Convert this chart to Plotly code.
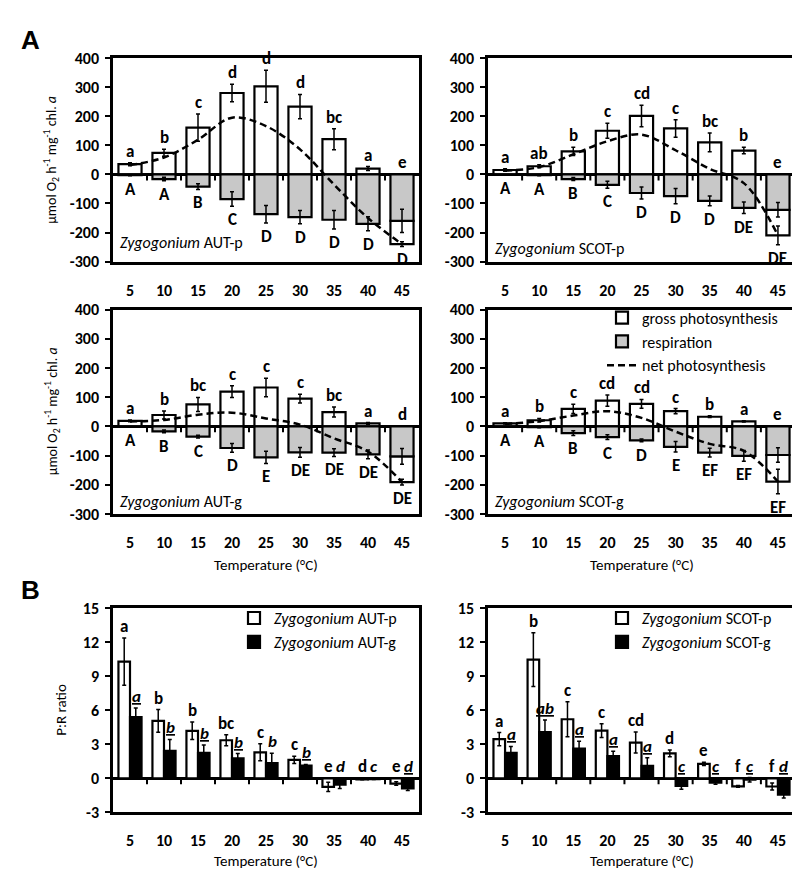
import plotly.graph_objects as go

temps = ['5', '10', '15', '20', '25', '30', '35', '40', '45']

# ---------- Panel A data (µmol O2 h-1 mg-1 chl a) ----------
autp_gross = [35, 74, 161, 280, 303, 233, 121, 20, -80]
autp_gross_err = [5, 12, 47, 30, 55, 42, 36, 7, 8]
autp_resp = [-3, -16, -42, -85, -137, -147, -156, -170, -160]
autp_resp_err = [2, 6, 10, 25, 30, 23, 32, 24, 40]
autp_net = [32, 58, 119, 195, 166, 86, -35, -150, -240]
autp_low = ['a', 'b', 'c', 'd', 'd', 'd', 'bc', 'a', 'e']
autp_up = ['A', 'A', 'B', 'C', 'D', 'D', 'D', 'D', 'D']

scotp_gross = [15, 28, 79, 150, 201, 158, 110, 82, -88]
scotp_gross_err = [4, 5, 14, 26, 37, 30, 32, 11, 32]
scotp_resp = [-2, -3, -16, -36, -64, -75, -91, -115, -122]
scotp_resp_err = [1, 2, 5, 12, 21, 26, 17, 20, 25]
scotp_net = [13, 25, 69, 114, 137, 83, 19, -30, -210]
scotp_low = ['a', 'ab', 'b', 'c', 'cd', 'c', 'bc', 'b', 'e']
scotp_up = ['A', 'A', 'B', 'C', 'D', 'D', 'D', 'DE', 'DE']

autg_gross = [19, 39, 75, 119, 133, 95, 49, 10, -88]
autg_gross_err = [3, 14, 24, 20, 32, 15, 17, 3, 10]
autg_resp = [-2, -17, -35, -74, -106, -89, -90, -96, -103]
autg_resp_err = [1, 5, 5, 15, 21, 17, 13, 15, 27]
autg_net = [17, 22, 40, 47, 27, 6, -41, -86, -191]
autg_low = ['a', 'b', 'bc', 'c', 'c', 'c', 'bc', 'a', 'd']
autg_up = ['A', 'B', 'C', 'D', 'E', 'DE', 'DE', 'DE', 'DE']

scotg_gross = [10, 21, 60, 88, 77, 52, 33, 17, -91]
scotg_gross_err = [2, 6, 16, 19, 15, 9, 3, 2, 42]
scotg_resp = [-2, -3, -23, -37, -48, -70, -90, -101, -98]
scotg_resp_err = [1, 2, 8, 8, 5, 18, 15, 18, 25]
scotg_net = [8, 18, 37, 52, 29, -18, -60, -84, -189]
scotg_low = ['a', 'b', 'c', 'cd', 'cd', 'c', 'b', 'a', 'e']
scotg_up = ['A', 'A', 'B', 'C', 'D', 'E', 'EF', 'EF', 'EF']

# ---------- Panel B data (P:R ratio) ----------
aut_p_pr = [10.27, 5.05, 4.18, 3.35, 2.29, 1.63, -0.75, -0.10, -0.46]
aut_p_pr_err = [2.08, 1.0, 0.77, 0.48, 0.75, 0.32, 0.4, 0.03, 0.15]
aut_g_pr = [5.4, 2.42, 2.24, 1.75, 1.34, 1.12, -0.55, -0.08, -0.88]
aut_g_pr_err = [0.78, 1.0, 0.7, 0.43, 0.86, 0.1, 0.35, 0.03, 0.2]
aut_p_lab = ['a', 'b', 'b', 'bc', 'c', 'c', 'e', 'd', 'e']
aut_g_lab = ['a', 'b', 'b', 'b', 'b', 'b', 'd', 'c', 'd']
aut_g_under = [1, 1, 1, 1, 0, 1, 0, 0, 1]

scot_p_pr = [3.45, 10.45, 5.2, 4.2, 3.15, 2.2, 1.27, -0.71, -0.72]
scot_p_pr_err = [0.58, 2.37, 1.55, 0.6, 0.92, 0.3, 0.15, 0.08, 0.3]
scot_g_pr = [2.25, 4.06, 2.62, 1.95, 1.1, -0.66, -0.37, -0.12, -1.43]
scot_g_pr_err = [0.56, 1.07, 0.65, 0.43, 0.72, 0.3, 0.15, 0.2, 0.3]
scot_p_lab = ['a', 'b', 'c', 'c', 'cd', 'd', 'e', 'f', 'f']
scot_g_lab = ['a', 'ab', 'a', 'a', 'a', 'c', 'c', 'c', 'd']
scot_g_under = [1, 1, 1, 1, 1, 1, 1, 1, 1]

A_yticks = [-300, -200, -100, 0, 100, 200, 300, 400]
B_yticks = [-3, 0, 3, 6, 9, 12, 15]

FONT = "Carlito, Lato, sans-serif"
GREY = "#c8c8c8"
W, H = 800, 878
LETTER_SIZE = 17
TEXT_SIZE = 16


def fx(p):
    return p / W


def fy(p):
    return 1 - p / H


fig = go.Figure()
annotations = []
shapes = []

A_panels = [
    dict(g=autp_gross, ge=autp_gross_err, r=autp_resp, re=autp_resp_err, n=autp_net,
         low=autp_low, up=autp_up, name='AUT-p', lab_off=20,
         xd=(105, 411), yd=(42, 250)),
    dict(g=scotp_gross, ge=scotp_gross_err, r=scotp_resp, re=scotp_resp_err, n=scotp_net,
         low=scotp_low, up=scotp_up, name='SCOT-p', lab_off=13,
         xd=(480, 787), yd=(42, 250)),
    dict(g=autg_gross, ge=autg_gross_err, r=autg_resp, re=autg_resp_err, n=autg_net,
         low=autg_low, up=autg_up, name='AUT-g', lab_off=13,
         xd=(105, 411), yd=(299, 508)),
    dict(g=scotg_gross, ge=scotg_gross_err, r=scotg_resp, re=scotg_resp_err, n=scotg_net,
         low=scotg_low, up=scotg_up, name='SCOT-g', lab_off=13,
         xd=(480, 787), yd=(299, 508)),
]

err_style = dict(type='data', color='black', thickness=1.5, width=2)
layout_axes = {}
TICKFONT = dict(family=FONT, size=16, color='black')


def axis_names(k):
    return ('x' if k == 1 else f'x{k}'), ('y' if k == 1 else f'y{k}')


def make_axes(k, xd, yd, yrange, ytickvals):
    xn, yn = axis_names(k)
    xkey = 'xaxis' if k == 1 else f'xaxis{k}'
    ykey = 'yaxis' if k == 1 else f'yaxis{k}'
    layout_axes[xkey] = dict(
        domain=[fx(xd[0]), fx(xd[1])], anchor=yn, type='category',
        categoryorder='array', categoryarray=temps, range=[-0.5, 8.5],
        tickvals=temps, ticktext=[f'<b>{t}</b>' for t in temps],
        showline=True, mirror=True, linecolor='black', linewidth=2.5,
        ticks='', showgrid=False, zeroline=False, ticklabelstandoff=12,
        tickfont=TICKFONT)
    layout_axes[ykey] = dict(
        domain=[fy(yd[1]), fy(yd[0])], anchor=xn, range=yrange,
        tickvals=ytickvals, ticktext=[f'<b>{v}</b>' for v in ytickvals],
        showline=True, mirror=True, linecolor='black',
        linewidth=2.5, ticks='outside', ticklen=5, tickwidth=2, tickcolor='black',
        showgrid=False, zeroline=True, zerolinecolor='black', zerolinewidth=2.5,
        ticklabelstandoff=3, tickfont=TICKFONT)
    for b in range(1, len(temps)):
        shapes.append(dict(type='line', xref=xn, yref=yn, x0=b - 0.5, x1=b - 0.5,
                           ysizemode='pixel', yanchor=0, y0=0, y1=-6,
                           line=dict(color='black', width=2)))


for i, p in enumerate(A_panels):
    k = i + 1
    xn, yn = axis_names(k)
    make_axes(k, p['xd'], p['yd'], [-300, 400], A_yticks)
    show = (k == 4)
    gbase = [0 if g >= 0 else r for g, r in zip(p['g'], p['r'])]
    fig.add_trace(go.Bar(
        x=temps, y=p['g'], base=gbase, xaxis=xn, yaxis=yn,
        marker=dict(color='white', line=dict(color='black', width=2.2)),
        error_y=dict(array=p['ge'], **err_style),
        name='gross photosynthesis', showlegend=show, legendrank=1, legend='legend'))
    fig.add_trace(go.Bar(
        x=temps, y=p['r'], base=[0] * len(temps), xaxis=xn, yaxis=yn,
        marker=dict(color=GREY, line=dict(color='black', width=2.2)),
        error_y=dict(array=p['re'], **err_style),
        name='respiration', showlegend=show, legendrank=2, legend='legend'))
    fig.add_trace(go.Scatter(
        x=temps, y=p['n'], mode='lines', xaxis=xn, yaxis=yn,
        line=dict(color='black', width=2.5, dash='7px,4px', shape='spline', smoothing=1.0),
        name='net photosynthesis', showlegend=show, legendrank=3, legend='legend'))
    # letters (x given as category index)
    for j in range(len(temps)):
        g, ge, r, re_ = p['g'][j], p['ge'][j], p['r'][j], p['re'][j]
        top = g + ge if g > 0 else 0
        annotations.append(dict(x=j, y=top, xref=xn, yref=yn, text=f"<b>{p['low'][j]}</b>",
                                showarrow=False, yanchor='bottom', yshift=-1,
                                font=dict(family=FONT, size=LETTER_SIZE, color='black')))
        bottom = r - re_
        if g < 0:
            bottom = min(bottom, r + g - ge)
        annotations.append(dict(x=j, y=bottom, xref=xn, yref=yn, text=f"<b>{p['up'][j]}</b>",
                                showarrow=False, yanchor='top', yshift=-1,
                                font=dict(family=FONT, size=LETTER_SIZE, color='black')))
    ydom = p['yd']
    annotations.append(dict(xref='paper', yref='paper', x=fx(p['xd'][0] + 5),
                            y=fy(ydom[1] - p['lab_off']), xanchor='left', yanchor='middle',
                            text=f"<i>Zygogonium</i> {p['name']}", showarrow=False,
                            font=dict(family=FONT, size=TEXT_SIZE, color='black')))

# ---------- Panel B ----------
B_panels = [
    dict(p=aut_p_pr, pe=aut_p_pr_err, g=aut_g_pr, ge=aut_g_pr_err, pl=aut_p_lab,
         gl=aut_g_lab, gu=aut_g_under, np='AUT-p', ng='AUT-g', leg='legend2',
         xd=(105, 411), yd=(604, 813)),
    dict(p=scot_p_pr, pe=scot_p_pr_err, g=scot_g_pr, ge=scot_g_pr_err, pl=scot_p_lab,
         gl=scot_g_lab, gu=scot_g_under, np='SCOT-p', ng='SCOT-g', leg='legend3',
         xd=(480, 787), yd=(604, 813)),
]

for i, p in enumerate(B_panels):
    k = 5 + i
    xn, yn = axis_names(k)
    make_axes(k, p['xd'], p['yd'], [-3, 15], B_yticks)
    fig.add_trace(go.Bar(
        x=temps, y=p['p'], xaxis=xn, yaxis=yn, width=0.34, offset=-0.34,
        marker=dict(color='white', line=dict(color='black', width=2.2)),
        error_y=dict(array=p['pe'], **err_style),
        name=f"<i>Zygogonium</i> {p['np']}", legend=p['leg']))
    fig.add_trace(go.Bar(
        x=temps, y=p['g'], xaxis=xn, yaxis=yn, width=0.34, offset=0.0,
        marker=dict(color='black', line=dict(color='black', width=2.2)),
        error_y=dict(array=p['ge'], **err_style),
        name=f"<i>Zygogonium</i> {p['ng']}", legend=p['leg']))
    for j in range(len(temps)):
        v, e = p['p'][j], p['pe'][j]
        top = v + e if v > 0 else 0
        annotations.append(dict(x=j, y=top, xref=xn, yref=yn, xshift=-6,
                                text=f"<b>{p['pl'][j]}</b>", showarrow=False, yshift=-1,
                                yanchor='bottom',
                                font=dict(family=FONT, size=LETTER_SIZE, color='black')))
        v, e = p['g'][j], p['ge'][j]
        top = v + e if v > 0 else 0
        lbl = p['gl'][j]
        txt = f"<b><i><u>{lbl}</u></i></b>" if p['gu'][j] else f"<b><i>{lbl}</i></b>"
        annotations.append(dict(x=j, y=top, xref=xn, yref=yn, xshift=6,
                                text=txt, showarrow=False, yshift=-1,
                                yanchor='bottom',
                                font=dict(family=FONT, size=LETTER_SIZE, color='black')))

# axis titles
for (xd, yc) in [((105, 411), 560), ((480, 787), 560), ((105, 411), 863), ((480, 787), 863)]:
    annotations.append(dict(xref='paper', yref='paper', x=fx((xd[0] + xd[1]) / 2), y=fy(yc),
                            text='Temperature (°C)', showarrow=False, xanchor='center',
                            yanchor='middle', font=dict(family=FONT, size=15, color='black')))
for yc in [146, 403]:
    annotations.append(dict(xref='paper', yref='paper', x=fx(44), y=fy(yc), textangle=-90,
                            text='µmol O<sub>2</sub> h<sup>-1</sup> mg<sup>-1</sup> chl. <i>a</i>',
                            showarrow=False, xanchor='center', yanchor='middle',
                            font=dict(family=FONT, size=14, color='black')))
annotations.append(dict(xref='paper', yref='paper', x=fx(53), y=fy(708), textangle=-90,
                        text='P:R ratio', showarrow=False, xanchor='center', yanchor='middle',
                        font=dict(family=FONT, size=15, color='black')))
annotations.append(dict(xref='paper', yref='paper', x=fx(22), y=fy(24), text='<b>A</b>',
                        showarrow=False, xanchor='center', yanchor='middle',
                        font=dict(family='Liberation Sans, Arial', size=26, color='black')))
annotations.append(dict(xref='paper', yref='paper', x=fx(22), y=fy(586), text='<b>B</b>',
                        showarrow=False, xanchor='center', yanchor='middle',
                        font=dict(family='Liberation Sans, Arial', size=26, color='black')))

leg_common = dict(bgcolor='rgba(0,0,0,0)', borderwidth=0, itemwidth=30, tracegroupgap=0,
                  font=dict(family=FONT, size=TEXT_SIZE, color='black'), xanchor='left',
                  yanchor='top', traceorder='normal')

fig.update_layout(
    width=W, height=H, margin=dict(l=0, r=0, t=0, b=0),
    paper_bgcolor='white', plot_bgcolor='white',
    barmode='overlay', bargap=0.32,
    annotations=annotations, shapes=shapes,
    legend=dict(x=fx(594), y=fy(290), **leg_common),
    legend2=dict(x=fx(226), y=fy(597), **leg_common),
    legend3=dict(x=fx(594), y=fy(597), **leg_common),
    **layout_axes,
)

fig.write_html("out.html")
